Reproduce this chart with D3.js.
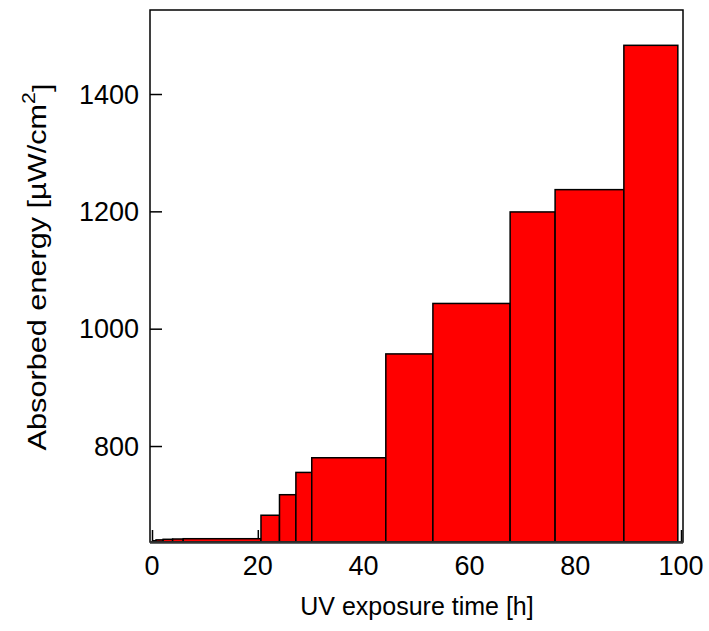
<!DOCTYPE html>
<html>
<head>
<meta charset="utf-8">
<script src="https://cdn.jsdelivr.net/npm/d3@7"></script>
<style>
  html, body { margin: 0; padding: 0; background: #fff; }
  svg { display: block; font-family: "Liberation Sans", Arial, Helvetica, sans-serif; }
</style>
</head>
<body>
<svg id="chart" width="709" height="631"></svg>
<script>
// Bin edges (hours) and absorbed energy per bin
const binStart = [0.25, 0.76, 2.1, 3.9, 5.9, 20.6, 24.1, 27.2, 30.2, 44.2, 53.1, 67.7, 76.2, 89.2];
const binEnd   = [0.76, 2.1, 3.9, 5.9, 20.6, 24.1, 27.2, 30.2, 44.2, 53.1, 67.7, 76.2, 89.2, 99.4];
const energy   = [638.5, 640, 641, 641.5, 642, 682, 717, 755, 780, 957, 1043, 1199, 1237, 1483];
const xTicks = [0, 20, 40, 60, 80, 100];
const yTicks = [800, 1000, 1200, 1400];
const xTitle = "UV exposure time [h]";
const yTitle = "Absorbed energy [µW/cm";

const svg = d3.select("#chart");
const frame = { left: 150, right: 683, top: 10, bottom: 542 };

const x = d3.scaleLinear().domain([0, 100]).range([152, 681]);
const y = d3.scaleLinear().domain([636.4, 1543.2]).range([frame.bottom, frame.top]);

const bars = binStart.map((s, i) => ({ s, e: binEnd[i], v: energy[i] }));

// inward ticks (drawn below bars)
const xAxis = d3.axisTop(x).tickValues(xTicks).tickSize(12).tickFormat("");
svg.append("g").attr("transform", `translate(0,${frame.bottom})`).call(xAxis)
  .call(g => g.select(".domain").remove())
  .call(g => g.selectAll("line").attr("stroke", "#000").attr("stroke-width", 1.5));

const yAxis = d3.axisRight(y).tickValues(yTicks).tickSize(12).tickFormat("");
svg.append("g").attr("transform", `translate(${frame.left},0)`).call(yAxis)
  .call(g => g.select(".domain").remove())
  .call(g => g.selectAll("line").attr("stroke", "#000").attr("stroke-width", 1.5));

// bars
svg.append("g").selectAll("rect").data(bars).join("rect")
  .attr("x", d => x(d.s))
  .attr("width", d => x(d.e) - x(d.s))
  .attr("y", d => y(d.v))
  .attr("height", d => frame.bottom - y(d.v))
  .attr("fill", "#ff0000")
  .attr("stroke", "#000")
  .attr("stroke-width", 1.5);

// frame
svg.append("rect")
  .attr("x", frame.left).attr("y", frame.top)
  .attr("width", frame.right - frame.left).attr("height", frame.bottom - frame.top)
  .attr("fill", "none").attr("stroke", "#000").attr("stroke-width", 1.5);
svg.append("line")
  .attr("x1", frame.left).attr("x2", frame.right)
  .attr("y1", frame.bottom + 0.5).attr("y2", frame.bottom + 0.5)
  .attr("stroke", "#333").attr("stroke-width", 2.5);

// tick labels
svg.append("g").selectAll("text").data(xTicks).join("text")
  .attr("x", d => x(d)).attr("y", frame.bottom + 33)
  .attr("text-anchor", "middle").attr("font-size", 27).attr("fill", "#000")
  .text(d => d);

svg.append("g").selectAll("text").data(yTicks).join("text")
  .attr("x", frame.left - 11).attr("y", d => y(d))
  .attr("dy", "0.36em")
  .attr("text-anchor", "end").attr("font-size", 27).attr("fill", "#000")
  .text(d => d);

// axis titles
svg.append("text")
  .attr("x", 417).attr("y", 615)
  .attr("text-anchor", "middle").attr("font-size", 25).attr("fill", "#000")
  .text(xTitle);

const yt = svg.append("text")
  .attr("transform", `translate(46,267) rotate(-90) scale(1.18,1)`)
  .attr("text-anchor", "middle").attr("font-size", 26).attr("fill", "#000");
yt.append("tspan").text(yTitle);
yt.append("tspan").attr("dy", "-0.6em").attr("font-size", 18).text("2");
yt.append("tspan").attr("dy", "0.6em").text("]");
</script>
</body>
</html>
